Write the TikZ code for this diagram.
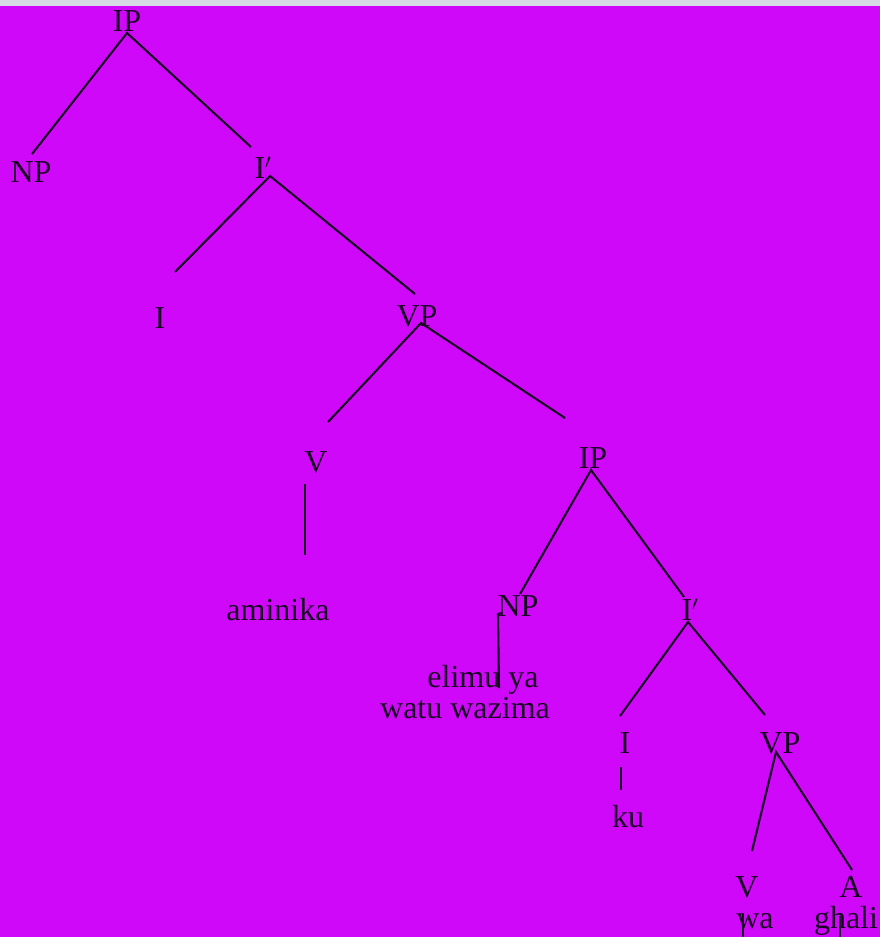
\documentclass[tikz,border=0pt]{standalone}
\usepackage{fontspec}
\setmainfont{Liberation Serif}
\definecolor{bg}{RGB}{208,8,250}
\definecolor{topstrip}{RGB}{214,218,228}
\definecolor{ink}{RGB}{25,5,35}
\begin{document}
\begin{tikzpicture}[x=1pt,y=-1pt,
  lbl/.style={anchor=base,inner sep=0pt,text=ink,font=\fontsize{32}{36}\selectfont},
  edge/.style={draw=ink,line width=2.1pt}]
\useasboundingbox (0,0) rectangle (880,937);
\fill[bg] (0,0) rectangle (880,937);
\fill[topstrip] (0,0) rectangle (880,6);
% labels
\node[lbl] (ip1) at (127,31) {IP};
\node[lbl] (np1) at (31,182) {NP};
\node[lbl] (ib1) at (263,178) {I$'$};
\node[lbl] (i1) at (160,328) {I};
\node[lbl] (vp1) at (417,326) {VP};
\node[lbl] (v1) at (316,472) {V};
\node[lbl] (amin) at (278,620) {aminika};
\node[lbl] (ip2) at (593,468) {IP};
\node[lbl] (np2) at (518,616) {NP};
\node[lbl] (elimu) at (483,687) {elimu ya};
\node[lbl] (watu) at (465,718) {watu wazima};
\node[lbl] (ib2) at (690,620) {I$'$};
\node[lbl] (i2) at (625,753) {I};
\node[lbl] (vp2) at (780,753) {VP};
\node[lbl] (ku) at (628,827) {ku};
\node[lbl] (v2) at (747,897) {V};
\node[lbl] (a2) at (851,897) {A};
\node[lbl] (wa) at (755,928) {wa};
\node[lbl] (ghali) at (846,928) {ghali};
% connector ends
\coordinate (ip1b) at (127,33);
\coordinate (np1t) at (32,154);
\coordinate (ib1t) at (251,147);
\coordinate (ib1b) at (270,176);
\coordinate (i1t) at (175,272);
\coordinate (vp1t) at (415,294);
\coordinate (vp1b) at (421,323);
\coordinate (v1t) at (328,422);
\coordinate (ip2t) at (565,418);
\coordinate (v1b) at (305,484);
\coordinate (amint) at (305,555);
\coordinate (ip2b) at (591,470);
\coordinate (np2t) at (520,594);
\coordinate (ib2t) at (684,597);
\coordinate (np2b) at (502,613);
\coordinate (np2c) at (498,614);
\coordinate (elimut) at (499,688);
\coordinate (ib2b) at (688,622);
\coordinate (i2t) at (620,716);
\coordinate (vp2t) at (765,715);
\coordinate (i2b) at (621,767);
\coordinate (kut) at (621,790);
\coordinate (vp2b) at (776,752);
\coordinate (v2t) at (752,851);
\coordinate (a2t) at (852,870);
\coordinate (wab) at (743,913);
\coordinate (wae) at (743,937);
\coordinate (ghb) at (840,916);
\coordinate (ghe) at (840,937);
% connectors
\draw[edge] (np1t) -- (ip1b) -- (ib1t);
\draw[edge] (i1t) -- (ib1b) -- (vp1t);
\draw[edge] (v1t) -- (vp1b) -- (ip2t);
\draw[edge] (v1b) -- (amint);
\draw[edge] (np2t) -- (ip2b) -- (ib2t);
\draw[edge] (np2b) -- (np2c) -- (elimut);
\draw[edge] (i2t) -- (ib2b) -- (vp2t);
\draw[edge] (i2b) -- (kut);
\draw[edge] (v2t) -- (vp2b) -- (a2t);
\draw[edge] (wab) -- (wae);
\draw[edge] (ghb) -- (ghe);
\end{tikzpicture}
\end{document}
